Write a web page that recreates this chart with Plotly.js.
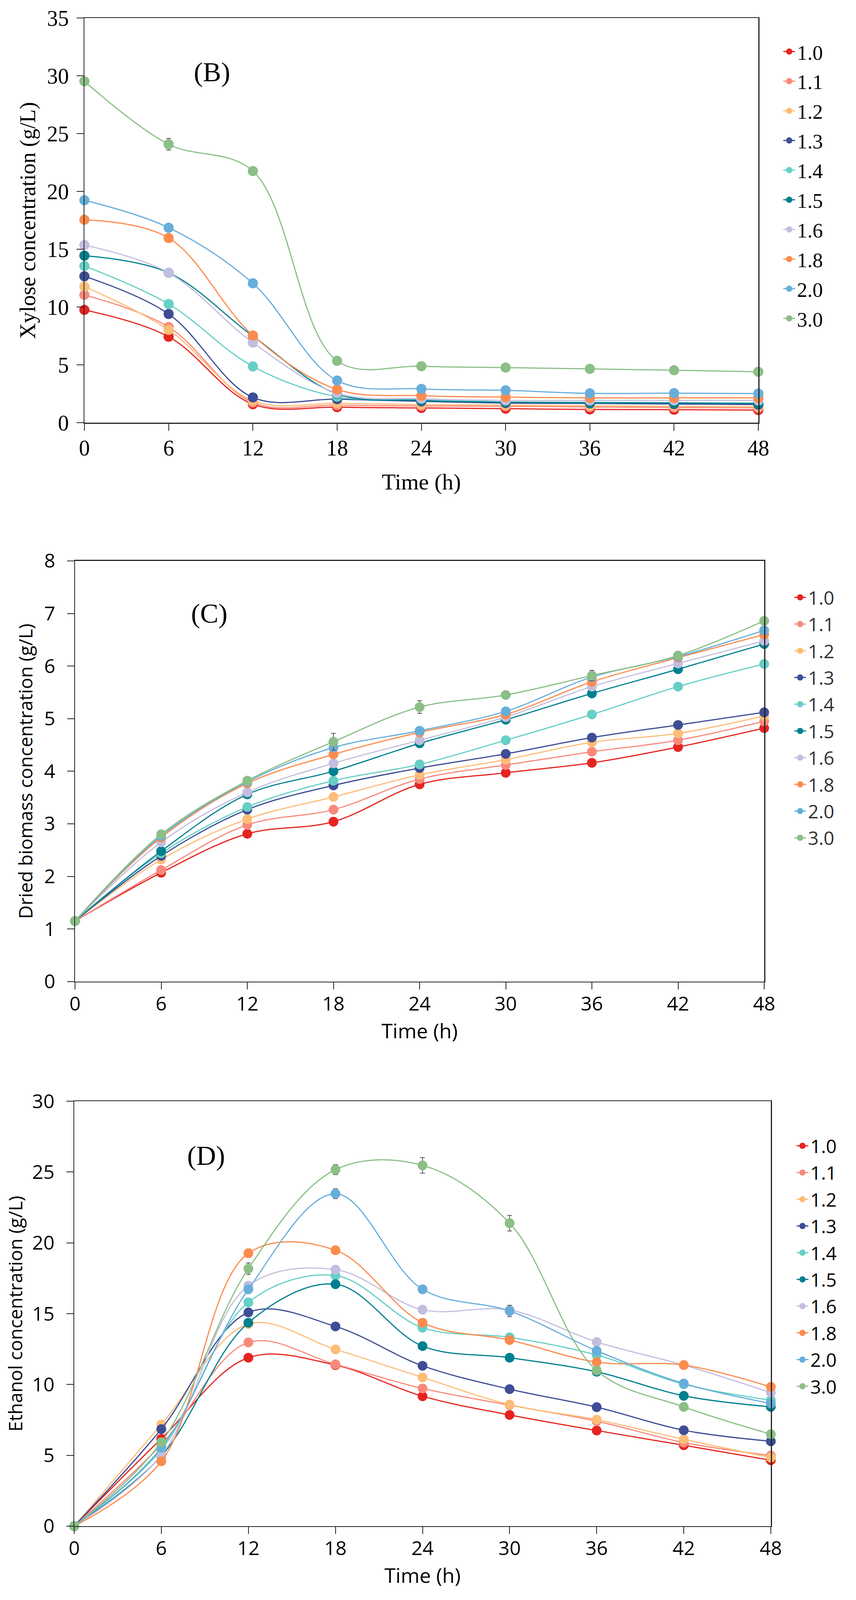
<!DOCTYPE html>
<html>
<head>
<meta charset="utf-8">
<script src="https://cdn.plot.ly/plotly-3.0.1.min.js"></script>
<style>
  html, body { margin: 0; padding: 0; background: #ffffff; overflow: hidden; }
  #chart { width: 100vw; height: 100vh; }
</style>
</head>
<body>
<div id="chart"></div>
<script>
// ---------- shared data ----------
const timeH = [0, 6, 12, 18, 24, 30, 36, 42, 48];
const seriesNames = ["1.0", "1.1", "1.2", "1.3", "1.4", "1.5", "1.6", "1.8", "2.0", "3.0"];
const seriesColors = ["#E52421", "#F88A7C", "#FDBD78", "#3E4D95", "#66CFC6", "#00808F", "#C3BEDF", "#FD8B4E", "#68AEDA", "#8BBF86"];

// ---------- (B) Xylose concentration (g/L) ----------
const xylose_10 = [9.76, 7.44, 1.60, 1.35, 1.28, 1.22, 1.15, 1.13, 1.10];
const xylose_11 = [11.06, 8.28, 1.75, 1.52, 1.45, 1.42, 1.36, 1.32, 1.28];
const xylose_12 = [11.78, 8.03, 1.90, 1.68, 1.57, 1.52, 1.47, 1.42, 1.38];
const xylose_13 = [12.67, 9.41, 2.19, 2.04, 1.85, 1.70, 1.67, 1.62, 1.57];
const xylose_14 = [13.56, 10.27, 4.87, 2.25, 2.03, 1.80, 1.77, 1.72, 1.70];
const xylose_15 = [14.45, 12.97, 7.50, 2.50, 1.93, 1.77, 1.72, 1.72, 1.67];
const xylose_16 = [15.37, 12.97, 6.93, 2.55, 2.08, 1.93, 1.93, 1.93, 1.93];
const xylose_18 = [17.56, 15.98, 7.55, 2.88, 2.34, 2.22, 2.15, 2.15, 2.15];
const xylose_20 = [19.25, 16.87, 12.06, 3.65, 2.93, 2.80, 2.54, 2.56, 2.52];
const xylose_30 = [29.54, 24.09, 21.77, 5.35, 4.89, 4.77, 4.66, 4.54, 4.41];
const xyloseErr_30 = [null, 0.5, null, null, null, null, null, null, null];

// ---------- (C) Dried biomass concentration (g/L) ----------
const biomass_10 = [1.15, 2.07, 2.81, 3.04, 3.75, 3.97, 4.16, 4.46, 4.82];
const biomass_11 = [1.15, 2.12, 2.98, 3.27, 3.85, 4.12, 4.37, 4.59, 4.95];
const biomass_12 = [1.15, 2.32, 3.09, 3.51, 3.93, 4.22, 4.55, 4.72, 5.05];
const biomass_13 = [1.15, 2.39, 3.27, 3.73, 4.06, 4.33, 4.64, 4.88, 5.12];
const biomass_14 = [1.15, 2.44, 3.32, 3.82, 4.13, 4.59, 5.08, 5.61, 6.04];
const biomass_15 = [1.15, 2.48, 3.56, 4.00, 4.53, 4.98, 5.48, 5.94, 6.42];
const biomass_16 = [1.15, 2.65, 3.60, 4.15, 4.59, 5.03, 5.61, 6.05, 6.48];
const biomass_18 = [1.15, 2.74, 3.77, 4.32, 4.74, 5.08, 5.70, 6.16, 6.60];
const biomass_20 = [1.15, 2.77, 3.80, 4.45, 4.77, 5.14, 5.79, 6.18, 6.68];
const biomass_30 = [1.15, 2.80, 3.82, 4.56, 5.22, 5.45, 5.82, 6.20, 6.86];
const biomassErr_30 = [null, null, null, 0.16, 0.12, null, 0.10, null, null];

// ---------- (D) Ethanol concentration (g/L) ----------
const ethanol_10 = [0, 6.17, 11.89, 11.37, 9.17, 7.85, 6.75, 5.71, 4.65];
const ethanol_11 = [0, 5.75, 12.97, 11.42, 9.72, 8.54, 7.41, 5.90, 4.98];
const ethanol_12 = [0, 7.17, 14.27, 12.48, 10.50, 8.58, 7.52, 6.13, 4.84];
const ethanol_13 = [0, 6.85, 15.09, 14.10, 11.32, 9.67, 8.40, 6.77, 5.99];
const ethanol_14 = [0, 5.40, 15.80, 17.69, 14.01, 13.33, 12.08, 10.02, 8.89];
const ethanol_15 = [0, 4.95, 14.36, 17.08, 12.71, 11.89, 10.90, 9.20, 8.42];
const ethanol_16 = [0, 5.00, 16.98, 18.11, 15.28, 15.26, 13.00, 11.37, 9.43];
const ethanol_18 = [0, 4.58, 19.27, 19.48, 14.36, 13.14, 11.58, 11.37, 9.83];
const ethanol_20 = [0, 5.54, 16.72, 23.47, 16.72, 15.19, 12.38, 10.07, 8.66];
const ethanol_30 = [0, 5.92, 18.18, 25.17, 25.47, 21.39, 10.99, 8.42, 6.49];
const ethanolErr_18 = [null, null, 0.30, null, null, null, null, null, null];
const ethanolErr_20 = [null, null, null, 0.35, null, 0.40, null, null, null];
const ethanolErr_30 = [null, null, 0.40, 0.35, 0.55, 0.55, null, null, null];

// ---------- assemble ----------
const panels = [
  { key: "B", xa: "x",  ya: "y",  legend: "legend", msize: 26,
    series: [xylose_10, xylose_11, xylose_12, xylose_13, xylose_14, xylose_15, xylose_16, xylose_18, xylose_20, xylose_30],
    errors: {"3.0": xyloseErr_30} },
  { key: "C", xa: "x2", ya: "y2", legend: "legend2", msize: 25,
    series: [biomass_10, biomass_11, biomass_12, biomass_13, biomass_14, biomass_15, biomass_16, biomass_18, biomass_20, biomass_30],
    errors: {"3.0": biomassErr_30} },
  { key: "D", xa: "x3", ya: "y3", legend: "legend3", msize: 25,
    series: [ethanol_10, ethanol_11, ethanol_12, ethanol_13, ethanol_14, ethanol_15, ethanol_16, ethanol_18, ethanol_20, ethanol_30],
    errors: {"1.8": ethanolErr_18, "2.0": ethanolErr_20, "3.0": ethanolErr_30} }
];

const traces = [];
panels.forEach(p => {
  p.series.forEach((vals, i) => {
    const name = seriesNames[i];
    const t = {
      type: "scatter",
      mode: "lines+markers",
      x: timeH,
      y: vals,
      name: name,
      xaxis: p.xa,
      yaxis: p.ya,
      legend: p.legend,
      legendgroup: p.key + name,
      cliponaxis: false,
      line: { shape: "spline", smoothing: 1, color: seriesColors[i], width: 3 },
      marker: { size: p.msize, color: seriesColors[i] },
      hoverinfo: "x+y+name"
    };
    if (p.errors[name]) {
      t.error_y = { type: "data", array: p.errors[name], visible: true, color: "#555555", thickness: 2, width: 6 };
    }
    traces.push(t);
  });
});

// reference frame is 2191 x 4504; positions are kept as fractions of it
const W0 = 2191, H0 = 4504;
const W = window.innerWidth || W0;
const H = window.innerHeight || H0;
const serif = "Liberation Serif, Times New Roman, serif";
const sans = "Open Sans, DejaVu Sans, sans-serif";

function xAxis(domainL, domainR, anchor, fam, size, titleSize, standoff, labelOff) {
  return {
    domain: [domainL / W0, domainR / W0], anchor: anchor,
    range: [0, 48], tickvals: timeH, ticktext: timeH.map(String),
    showgrid: false, zeroline: false, showline: true, mirror: true,
    linecolor: "#222222", linewidth: 2.5,
    ticks: "outside", ticklen: 18, tickwidth: 2, tickcolor: "#222222",
    ticklabelstandoff: labelOff,
    tickfont: { family: fam, size: size, color: "#000000" },
    title: { text: "Time (h)", font: { family: fam, size: titleSize, color: "#000000" }, standoff: standoff },
    automargin: false, fixedrange: true
  };
}
function yAxis(top, bottom, anchor, maxV, dt, fam, size, title, titleSize, standoff, labelOff) {
  return {
    domain: [1 - bottom / H0, 1 - top / H0], anchor: anchor,
    range: [0, maxV], dtick: dt, tick0: 0,
    showgrid: false, zeroline: false, showline: true, mirror: true,
    linecolor: "#222222", linewidth: 2.5,
    ticks: "outside", ticklen: 18, tickwidth: 2, tickcolor: "#222222",
    ticklabelstandoff: labelOff,
    tickfont: { family: fam, size: size, color: "#000000" },
    title: { text: title, font: { family: fam, size: titleSize, color: "#000000" }, standoff: standoff },
    automargin: false, fixedrange: true
  };
}

const layout = {
  width: W, height: H,
  margin: { l: 0, r: 0, t: 0, b: 0 },
  paper_bgcolor: "#ffffff", plot_bgcolor: "#ffffff",
  showlegend: true,
  xaxis:  xAxis(216, 1941, "y",  serif, 56, 58, 36, -4),
  yaxis:  yAxis(51, 1190, "x",  35, 5, serif, 56, "Xylose concentration (g/L)", 56, 12, 8),
  xaxis2: xAxis(192, 1956, "y2", sans, 50, 52, 14, -6),
  yaxis2: yAxis(1579, 2763, "x2", 8, 1, sans, 50, "Dried biomass concentration (g/L)", 48, 14, 20),
  xaxis3: xAxis(190, 1973, "y3", sans, 50, 52, 8, -6),
  yaxis3: yAxis(3100, 4296, "x3", 30, 5, sans, 50, "Ethanol concentration (g/L)", 48, 10, 20),
  legend:  { x: 2000 / W0, y: 1 - 100 / H0,  xanchor: "left", yanchor: "top", font: { family: serif, size: 53, color: "#000000" }, tracegroupgap: 4, bgcolor: "rgba(0,0,0,0)" },
  legend2: { x: 2028 / W0, y: 1 - 1640 / H0, xanchor: "left", yanchor: "top", font: { family: sans, size: 48, color: "#333333" }, tracegroupgap: 3, bgcolor: "rgba(0,0,0,0)" },
  legend3: { x: 2034 / W0, y: 1 - 3184 / H0, xanchor: "left", yanchor: "top", font: { family: sans, size: 48, color: "#000000" }, tracegroupgap: 3, bgcolor: "rgba(0,0,0,0)" },
  annotations: [
    { text: "(B)", xref: "paper", yref: "paper", x: 542 / W0, y: 1 - 203 / H0, xanchor: "center", yanchor: "middle", showarrow: false, font: { family: serif, size: 70, color: "#000000" } },
    { text: "(C)", xref: "paper", yref: "paper", x: 535 / W0, y: 1 - 1727 / H0, xanchor: "center", yanchor: "middle", showarrow: false, font: { family: serif, size: 70, color: "#000000" } },
    { text: "(D)", xref: "paper", yref: "paper", x: 527 / W0, y: 1 - 3253 / H0, xanchor: "center", yanchor: "middle", showarrow: false, font: { family: serif, size: 70, color: "#000000" } }
  ]
};

Plotly.newPlot("chart", traces, layout, { staticPlot: true, displayModeBar: false });
</script>
</body>
</html>
